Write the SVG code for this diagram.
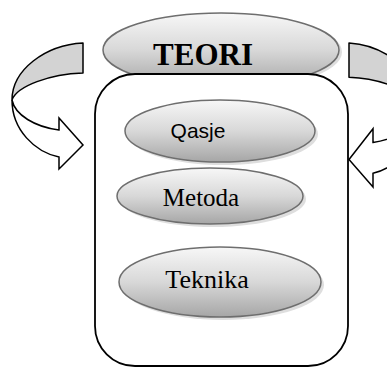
<svg xmlns="http://www.w3.org/2000/svg" width="387" height="367" viewBox="0 0 387 367">
<defs>
<linearGradient id="g" x1="0" y1="0" x2="0" y2="1">
<stop offset="0" stop-color="#f7f7f7"/>
<stop offset="0.5" stop-color="#d8d8d8"/>
<stop offset="1" stop-color="#a6a6a6"/>
</linearGradient>
<symbol id="arr" overflow="visible">
<path d="M83,43 C45,45 12,70 12,100 C17,86 50,74 83,73 Z" fill="#d3d3d3" stroke="#000" stroke-width="1.5" vector-effect="non-scaling-stroke" stroke-linejoin="round"/>
<path d="M12,100 C12,130 35,152 59,157 L59,169 L83,145 L59,118 L59,130 C35,127 15,115 12,100 Z" fill="#fff" stroke="#000" stroke-width="1.5" vector-effect="non-scaling-stroke" stroke-linejoin="miter"/>
</symbol>
</defs>
<style>
.ov{fill:url(#g);stroke:#6e6e6e;stroke-width:1.5}
.sh{fill:#c8c8c8;opacity:0.6}
.tn{font-family:"Liberation Serif","Times New Roman",serif;fill:#000;text-anchor:middle}
.sn{font-family:"Liberation Sans",Arial,sans-serif;fill:#000;text-anchor:middle}
</style>
<g id="teori">
<ellipse class="sh" cx="224" cy="52" rx="118" ry="38"/>
<ellipse class="ov" cx="221" cy="50" rx="118" ry="37"/>
<text class="tn" x="203" y="65" font-size="31" font-weight="bold">TEORI</text>
</g>
<g id="frame">
<rect x="95" y="74" width="253" height="292" rx="40" ry="40" fill="#fff" stroke="#000" stroke-width="1.8"/>
</g>
<g id="connectors">
<use href="#arr"/>
<use href="#arr" transform="translate(432,43) scale(-1,1.143) translate(0,-43)"/>
</g>
<g id="qasje">
<ellipse class="sh" cx="223" cy="134" rx="95" ry="31"/>
<ellipse class="ov" cx="220" cy="131" rx="95" ry="31"/>
<text class="sn" x="198" y="138" font-size="21">Qasje</text>
</g>
<g id="metoda">
<ellipse class="sh" cx="213" cy="199" rx="93" ry="28"/>
<ellipse class="ov" cx="210" cy="196" rx="93" ry="28"/>
<text class="tn" x="201" y="206" font-size="25">Metoda</text>
</g>
<g id="teknika">
<ellipse class="sh" cx="223" cy="285" rx="101" ry="35"/>
<ellipse class="ov" cx="220" cy="282" rx="101" ry="35"/>
<text class="tn" x="207" y="288" font-size="26">Teknika</text>
</g>
</svg>
